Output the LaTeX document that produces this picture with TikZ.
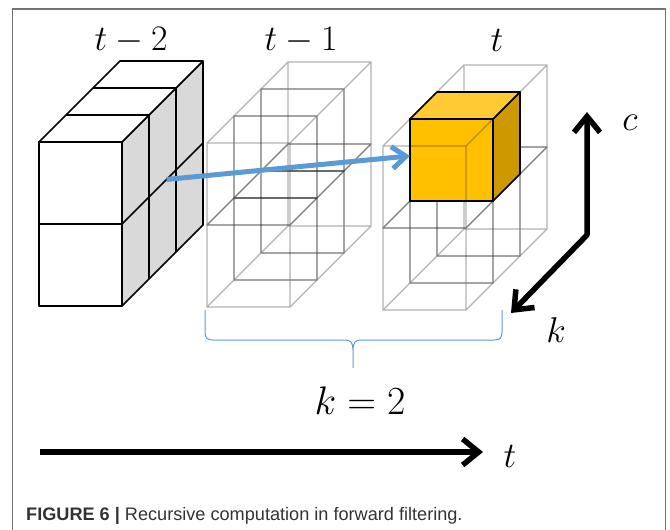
\RequirePackage{fix-cm}
\documentclass[tikz,border=0pt]{standalone}
\usepackage{fontspec}
\newfontfamily\capfont{Liberation Sans}
\usetikzlibrary{arrows.meta}

\definecolor{arrowblue}{HTML}{5B9BD5}
\definecolor{cubefront}{HTML}{FFC000}
\definecolor{cubetop}{HTML}{FFCA33}
\definecolor{cubeside}{HTML}{CC9900}
\definecolor{sidegray}{HTML}{D9D9D9}

\tikzset{axistip/.tip={Straight Barb[length=16bp,width=26bp]}}

\begin{document}
\begin{tikzpicture}[x=1bp, y=-1bp,
    block at/.style={shift={#1}, x={(83bp,0bp)}, y={(0bp,-82bp)}, z={(27bp,27bp)}},
    blockline/.style={draw=black, line width=1.6bp, line join=round},
    wire/.style={draw=black, draw opacity=0.3, line width=1.3bp},
    bluearrow/.style={draw=arrowblue, line width=5bp, -{Straight Barb[length=14bp,width=22bp]}},
    axis/.style={draw=black, line width=5.5bp},
    lbl/.style={font=\fontsize{36}{36}\selectfont, inner sep=0pt},
    wirecube/.pic={
        \path[wire] (0,0,0) -- (1,0,0) -- (1,1,0) -- (0,1,0) -- cycle
            (0,0,1) -- (1,0,1) -- (1,1,1) -- (0,1,1) -- cycle
            (0,0,0) -- (0,0,1) (1,0,0) -- (1,0,1)
            (1,1,0) -- (1,1,1) (0,1,0) -- (0,1,1);
    }]
    \useasboundingbox (0,0) rectangle (670,530);

    % Frame
    \draw[black!55, line width=1.5bp] (12.5,530) -- (12.5,9) -- (665.5,9) -- (665.5,530);

    % Block t-2 (solid)
    \begin{scope}[block at={(39,142)}]
        \filldraw[blockline, fill=sidegray] (1,0,0) -- (1,0,3) -- (1,2,3) -- (1,2,0) -- cycle;
        \filldraw[blockline, fill=white] (0,0,0) -- (0,0,3) -- (1,0,3) -- (1,0,0) -- cycle;
        \filldraw[blockline, fill=white] (0,0,0) rectangle (1,2,0);
        \draw[blockline] (0,1,0) -- (1,1,0) -- (1,1,3);
        \foreach \k in {1,2}
            \draw[blockline] (0,0,\k) -- (1,0,\k) -- (1,2,\k);
        \coordinate (src) at (1,1,1.65);
    \end{scope}

    % Block t-1 (wireframe)
    \begin{scope}[block at={(207,143)}]
        \foreach \j in {0,1}
            \foreach \k in {0,1,2}
                \pic at (0,\j,\k) {wirecube};
    \end{scope}

    % Block t (wireframe with current cell)
    \begin{scope}[block at={(383,146)}]
        \foreach \j in {0,1}
            \foreach \k in {1,2}
                \pic at (0,\j,\k) {wirecube};
        \filldraw[blockline, fill=cubeside] (1,0,1) -- (1,0,2) -- (1,1,2) -- (1,1,1) -- cycle;
        \filldraw[blockline, fill=cubetop] (0,0,1) -- (0,0,2) -- (1,0,2) -- (1,0,1) -- cycle;
        \filldraw[blockline, fill=cubefront] (0,0,1) rectangle (1,1,1);
        \foreach \j in {0,1}
            \pic at (0,\j,0) {wirecube};
        \coordinate (dst) at (0,0.45,1);
    \end{scope}

    % Recursion arrow
    \draw[bluearrow] (src) -- (dst);

    % Labels on top
    \node[lbl] (lbltwo) at (131,40) {$t-2$};
    \node[lbl] (lblone) at (301,40) {$t-1$};
    \node[lbl] (lblnow) at (497,40) {$t$};

    % Brace
    \draw[arrowblue, line width=1bp] (205,310) -- (205,332)
        .. controls (205,338) and (207,340) .. (213,340) -- (345,340)
        .. controls (351,340) and (353,343) .. (353,350) -- (353,368)
        (353,350) .. controls (353,343) and (355,340) .. (361,340) -- (494,340)
        .. controls (500,340) and (502,338) .. (502,332) -- (502,310);
    \node[lbl, font=\fontsize{40}{40}\selectfont] (kval) at (360,401) {$k=2$};

    % Axes c and k
    \coordinate (corner) at (587,235);
    \coordinate (ctip) at (587,112);
    \coordinate (ktip) at (511,313);
    \draw[axis, {axistip}-{axistip}, line join=round] (ctip) -- (corner) -- (ktip);
    \node[lbl] (clbl) at (630,123) {$c$};
    \node[lbl] (klbl) at (556,330) {$k$};

    % Time axis
    \coordinate (tstart) at (40,452);
    \coordinate (tend) at (483,452);
    \draw[axis, -{axistip}] (tstart) -- (tend);
    \node[lbl] (tlbl) at (510,456) {$t$};

    % Caption
    \node[anchor=base west, inner sep=0pt, text=black!80,
        font=\capfont\fontsize{18.2}{18.2}\selectfont] (caption) at (26,520)
        {\textbf{FIGURE 6 |} Recursive computation in forward filtering.};
\end{tikzpicture}
\end{document}
